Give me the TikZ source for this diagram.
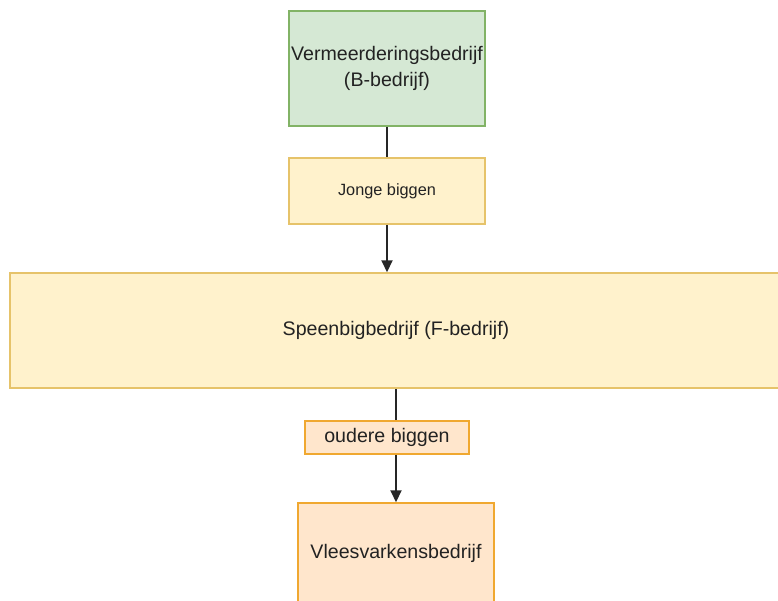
\documentclass[tikz,border=0pt]{standalone}
\usepackage{fontspec}
\setmainfont{Liberation Sans}
\usetikzlibrary{arrows.meta}
\definecolor{gfill}{HTML}{D5E8D4}
\definecolor{gdraw}{HTML}{82B366}
\definecolor{yfill}{HTML}{FFF2CC}
\definecolor{ydraw}{HTML}{E6C36A}
\definecolor{ofill}{HTML}{FFE6CC}
\definecolor{odraw}{HTML}{F0A830}
\definecolor{txt}{HTML}{222222}
\tikzset{
  box/.style={rectangle, inner sep=0pt, line width=1.5pt, text=txt, align=center,
    font=\fontsize{19.6}{26}\selectfont},
  greenbox/.style={box, fill=gfill, draw=gdraw},
  yellowbox/.style={box, fill=yfill, draw=ydraw},
  orangebox/.style={box, fill=ofill, draw=odraw},
  conn/.style={line width=2pt, draw=black!85},
  arr/.style={conn, -{Triangle[length=12pt,width=11pt]}}
}
\begin{document}
\begin{tikzpicture}[x=1pt,y=-1pt]
\useasboundingbox (0,0) rectangle (778,600);
\begin{scope}
\clip (0,0) rectangle (778,600);
\node[greenbox, minimum width=196pt, minimum height=115pt] (verm) at (387,68.5) {Vermeerderingsbedrijf\\(B-bedrijf)};
\node[yellowbox, minimum width=196pt, minimum height=66pt, font=\fontsize{16.3}{20}\selectfont] (jonge) at (387,191) {Jonge biggen};
\node[yellowbox, minimum width=772pt, minimum height=115pt] (speen) at (396,330.5) {Speenbigbedrijf (F-bedrijf)};
\node[orangebox, minimum width=164pt, minimum height=33pt] (oud) at (387,437.5) {oudere biggen};
\node[orangebox, minimum width=196pt, minimum height=100pt] (vlees) at (396,553) {Vleesvarkensbedrijf};
\draw[conn] (verm.south) -- (jonge.north);
\draw[arr] (jonge.south) -- (jonge.south |- speen.north);
\draw[conn] (speen.south) -- (speen.south |- oud.north);
\draw[arr] (speen.south |- oud.south) -- (vlees.north);
\end{scope}
\end{tikzpicture}
\end{document}
